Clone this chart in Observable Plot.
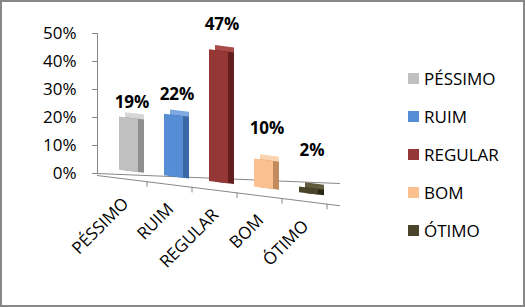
<!DOCTYPE html>
<html><head><meta charset="utf-8">
<script src="https://cdn.jsdelivr.net/npm/d3@7"></script>
<script src="https://cdn.jsdelivr.net/npm/@observablehq/plot@0.6"></script>
<style>
body{margin:0;background:#fff;}
#wrap{position:relative;width:525px;height:307px;overflow:hidden;font-family:"Open Sans",sans-serif;background:#fff;}
#chart{position:absolute;left:0;top:0;}
#border{position:absolute;left:0;top:0;width:525px;height:307px;box-sizing:border-box;border:2px solid #878787;pointer-events:none;}
#legend{position:absolute;left:408px;top:0;}
.item{position:absolute;left:0;white-space:nowrap;font-size:17px;color:#000;display:flex;align-items:center;height:20px;}
.sw{width:11px;height:11px;margin-right:5px;flex:none;}
</style></head><body>
<div id="wrap"><div id="chart"></div><div id="legend"></div><div id="border"></div></div>
<script>
const categories = ["PÉSSIMO", "RUIM", "REGULAR", "BOM", "ÓTIMO"];
const values = [19, 22, 47, 10, 2];
const valueLabels = ["19%", "22%", "47%", "10%", "2%"];
const yTicks = [0, 10, 20, 30, 40, 50];
const frontColors = ["#c0c0c0", "#558ed5", "#953735", "#fac090", "#4a452a"];
const sideColors  = ["#8e8e8e", "#3a69a6", "#621f1d", "#c28b5e", "#2a2715"];
const topColors   = ["#d6d6d6", "#7ea8e0", "#a94b48", "#fcd3b0", "#625c3c"];

const data = categories.map((c, i) => ({
  cat: c, value: values[i], label: valueLabels[i],
  front: frontColors[i], side: sideColors[i], top: topColors[i]
}));

const gray = "#878787";
const font = "'Open Sans', sans-serif";

const plot = Plot.plot({
  width: 525,
  height: 307,
  marginTop: 33,
  marginBottom: 134,
  marginLeft: 97,
  marginRight: 185,
  style: {fontFamily: font, fontSize: "17px", background: "transparent", overflow: "visible"},
  x: {domain: categories, range: [117.5, 319.5], paddingInner: 0.585, paddingOuter: 0, axis: null},
  y: {domain: [0, 50], ticks: yTicks, tickFormat: d => d + "%", tickSize: 5, tickPadding: 16, label: null},
  color: {type: "identity"},
  marks: [
    Plot.ruleY([0], {stroke: gray, ariaDescription: "floor-back"}),
    Plot.ruleY([0], {stroke: gray, ariaDescription: "floor-front"}),
    Plot.ruleX(data, {x: "cat", y1: 0, y2: -2, dx: 18, stroke: gray, ariaDescription: "floor-ticks"}),
    Plot.frame({anchor: "left", stroke: gray}),
    Plot.barY(data, {x: "cat", y: "value", fill: "top", dx: 6, dy: -13, ariaDescription: "bar-top"}),
    Plot.barY(data, {x: "cat", y: "value", fill: "side", dx: 6, dy: -8, ariaDescription: "bar-side"}),
    Plot.barY(data, {x: "cat", y: "value", fill: "front", dy: -8, ariaDescription: "bar-front"}),
    Plot.text(data, {x: "cat", y: "value", text: "label", dx: 3, dy: -12, lineAnchor: "bottom",
      fontWeight: "bold", fontSize: 17, fill: "#000"}),
    Plot.text(data, {x: "cat", y: () => 0, text: "cat", rotate: -45, textAnchor: "end", lineAnchor: "top",
      dx: -8, dy: 18, fontSize: 17, fill: "#000", ariaDescription: "xlabels"})
  ]
});

// perspective: skew floor-related groups
const frontTan = 0.125, frontPivot = 82;
const frontDeg = Math.atan(frontTan) * 180 / Math.PI;
const backTan = 0.041, backPivot = 97;
const backDeg = Math.atan(backTan) * 180 / Math.PI;
const svg = d3.select(plot.tagName.toLowerCase() === "svg" ? plot : plot.querySelector("svg"));
function skew(label, pivot, deg) {
  svg.selectAll(`g[aria-description="${label}"]`).each(function() {
    const ex = this.getAttribute("transform") || "";
    this.setAttribute("transform", `translate(${pivot},0) skewY(${deg}) translate(${-pivot},0) ${ex}`);
  });
}
["floor-front", "floor-ticks", "bar-top", "bar-side", "bar-front"].forEach(l => skew(l, frontPivot, frontDeg));
skew("floor-back", backPivot, backDeg);
// shift x labels down along the slanted front edge (without distorting glyphs)
svg.selectAll('g[aria-description="xlabels"] text').each(function() {
  const t = this.getAttribute("transform");
  const m = t && t.match(/translate\(\s*([-\d.e]+)[ ,]+([-\d.e]+)\s*\)(.*)/);
  if (m) {
    const x = +m[1], y = +m[2];
    this.setAttribute("transform", `translate(${x},${y + frontTan * (x - frontPivot)})${m[3]}`);
  } else {
    const x = +this.getAttribute("x"), y = +this.getAttribute("y");
    this.setAttribute("y", y + frontTan * (x - frontPivot));
  }
});
svg.selectAll('g[aria-label="y-axis tick"]').attr("stroke", gray);
svg.selectAll('g[aria-label="y-axis tick"] path').attr("stroke", gray);

document.getElementById("chart").appendChild(plot);

// legend
const legend = d3.select("#legend");
categories.forEach((c, i) => {
  const item = legend.append("div").attr("class", "item").style("top", (68 + i * 38.2) + "px");
  item.append("div").attr("class", "sw").style("background", frontColors[i]);
  item.append("span").text(c);
});
</script>
</body></html>
